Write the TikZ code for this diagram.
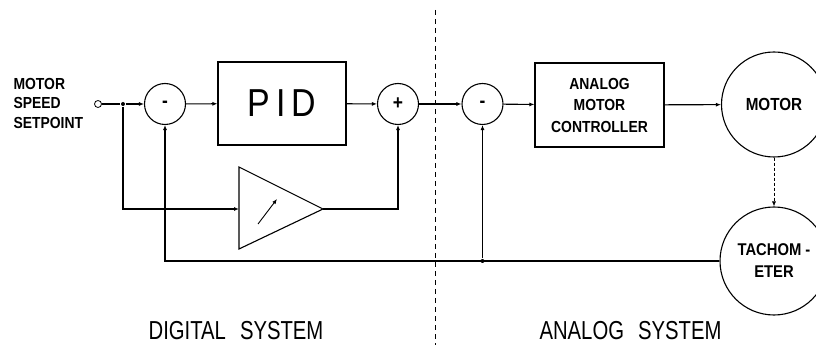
\documentclass[tikz,border=0pt]{standalone}
\usepackage{fontspec}
\newfontfamily\diagfont[FakeStretch=0.87]{Liberation Sans}
\newfontfamily\sysfont[FakeStretch=0.78]{Liberation Sans}
\usetikzlibrary{arrows.meta}

\begin{document}
\begin{tikzpicture}[x=1pt, y=-1pt, line width=1.1pt,
        every node/.style={font=\diagfont},
        sig/.style={-{Latex[length=5pt,width=4pt]}},
        junc/.style={circle, fill, inner sep=0pt, minimum size=4pt},
        sumpt/.style={circle, draw, minimum size=41pt, inner sep=0pt, font=\diagfont\bfseries\fontsize{20}{20}\selectfont},
        block/.style={draw, inner sep=0pt, align=center},
        lbl/.style={font=\diagfont\bfseries\fontsize{16}{21.5}\selectfont, align=center},
        sysname/.style={font=\sysfont\fontsize{26}{26}\selectfont}]
    \clip (0,0) rectangle (816,347);
    % boundary between the two systems
    \draw[line width=0.6pt, dash pattern=on 5pt off 4pt] (435,10) -- (435,345);
    % digital side
    \node[circle, draw, line width=0.8pt, minimum size=7pt, inner sep=0pt] (inp) at (98,104) {};
    \node[lbl, align=left, anchor=west, inner sep=0pt, font=\diagfont\bfseries\fontsize{16}{19.5}\selectfont] (setpt) at (13,103) {MOTOR\\SPEED\\SETPOINT};
    \node[junc] (split) at (123,104) {};
    \node[sumpt] (sumA) at (165,104) {-};
    \node[block, minimum width=128pt, minimum height=83pt, font=\diagfont\fontsize{39}{39}\selectfont] (pid) at (282,103.5) {P\hspace{6pt}I\hspace{6pt}D};
    \node[sumpt] (sumB) at (398,104) {+};
    % amplifier with adjustable gain
    \coordinate (ampIn) at (239,209);
    \coordinate (ampOut) at (323,209);
    \draw (ampIn) -- (239,167) -- (ampOut) -- (239,249) -- cycle;
    \draw[sig, line width=0.9pt] (258,224) -- (277,199);
    % analog side
    \node[sumpt] (sumC) at (482.5,104) {-};
    \node[block, lbl, minimum width=129pt, minimum height=84pt] (amc) at (599.5,105) {ANALOG\\MOTOR\\CONTROLLER};
    \node[circle, draw, minimum size=105pt, inner sep=0pt, lbl, font=\diagfont\bfseries\fontsize{17.5}{21}\selectfont] (motor) at (774,104.5) {MOTOR};
    \node[circle, draw, minimum size=108pt, inner sep=0pt, lbl, font=\diagfont\bfseries\fontsize{17}{22}\selectfont] (tach) at (774,261) {TACHOM -\\ETER};
    % signal flow
    \draw (inp) -- (split);
    \draw[sig] (split) -- (sumA);
    \draw[sig] (split) |- (ampIn);
    \draw[sig] (sumA) -- (pid);
    \draw[sig] (pid) -- (sumB);
    \draw[sig] (ampOut) -| (sumB);
    \draw[sig] (sumB) -- (sumC);
    \draw[sig] (sumC) -- (amc);
    \draw[sig] (amc) -- (motor);
    \draw[sig, line width=0.7pt, dash pattern=on 3pt off 2pt] (motor) -- (tach);
    % speed feedback
    \draw[sig] (tach) -| (sumA);
    \node[junc] (tapC) at (sumC |- tach) {};
    \draw[sig] (tapC) -- (sumC);
    \node[sysname] (digital) at (236,330.5) {DIGITAL\hspace{14pt}SYSTEM};
    \node[sysname] (analog) at (630.5,330.5) {ANALOG\hspace{14pt}SYSTEM};
\end{tikzpicture}
\end{document}
